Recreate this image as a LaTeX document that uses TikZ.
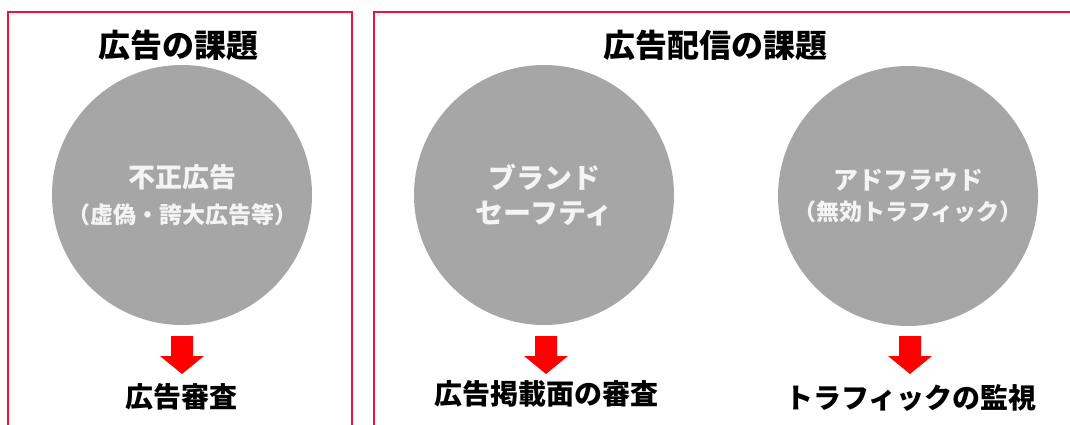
\documentclass[tikz,border=0pt]{standalone}
\usepackage{fontspec}
\usetikzlibrary{calc}
\setmainfont{Noto Sans CJK JP}
\definecolor{framered}{HTML}{F0103C}
\definecolor{bubblegray}{HTML}{A6A6A6}
\definecolor{bubbletext}{HTML}{F4F4F4}
\definecolor{arrowred}{HTML}{FF0000}
\newcommand{\fs}[1]{\fontsize{#1}{#1}\selectfont}
\begin{document}
\begin{tikzpicture}[x=1pt,y=-1pt,
  frame/.style={draw=framered,line width=2pt},
  bubble/.style={circle,fill=bubblegray,minimum size=260pt,inner sep=0pt,text=bubbletext,align=center,font=\bfseries},
  title/.style={font=\bfseries\fs{32}},
  result/.style={font=\bfseries\fs{28}},
  blockarrow/.style={fill=arrowred},
  ]
\useasboundingbox (0,0) rectangle (1070,425);
% frames
\draw[frame] (8,425) -- (8,12) -- (352,12) -- (352,425);
\draw[frame] (374,425) -- (374,12) -- (1072,12);
% titles
\node[title] (t1) at (178,45) {広告の課題};
\node[title] (t2) at (715,45) {広告配信の課題};
% circles
\node[bubble] (c1) at (182,195) {{\fs{27}不正広告}\\[12pt]{\fs{23}（虚偽・誇大広告等）}};
\node[bubble] (c2) at (544,195) {{\fs{28}ブランド}\\[9pt]{\fs{28}セーフティ}};
\node[bubble] (c3) at (908,196) {{\fs{25}アドフラウド}\\[9pt]{\fs{23}（無効トラフィック）}};
% arrows
\foreach \n/\x in {a1/182,a2/546,a3/910}{
  \coordinate (\n) at (\x,355);
  \fill[blockarrow] ($(\n)+(-11,-19)$) -- ($(\n)+(11,-19)$) -- ($(\n)+(11,1)$) -- ($(\n)+(22,1)$)
     -- ($(\n)+(0,19)$) -- ($(\n)+(-22,1)$) -- ($(\n)+(-11,1)$) -- cycle;
}
% results
\node[result] (r1) at (181,397) {広告審査};
\node[result] (r2) at (546,394) {広告掲載面の審査};
\node[result] (r3) at (911,398) {トラフィックの監視};
\end{tikzpicture}
\end{document}
